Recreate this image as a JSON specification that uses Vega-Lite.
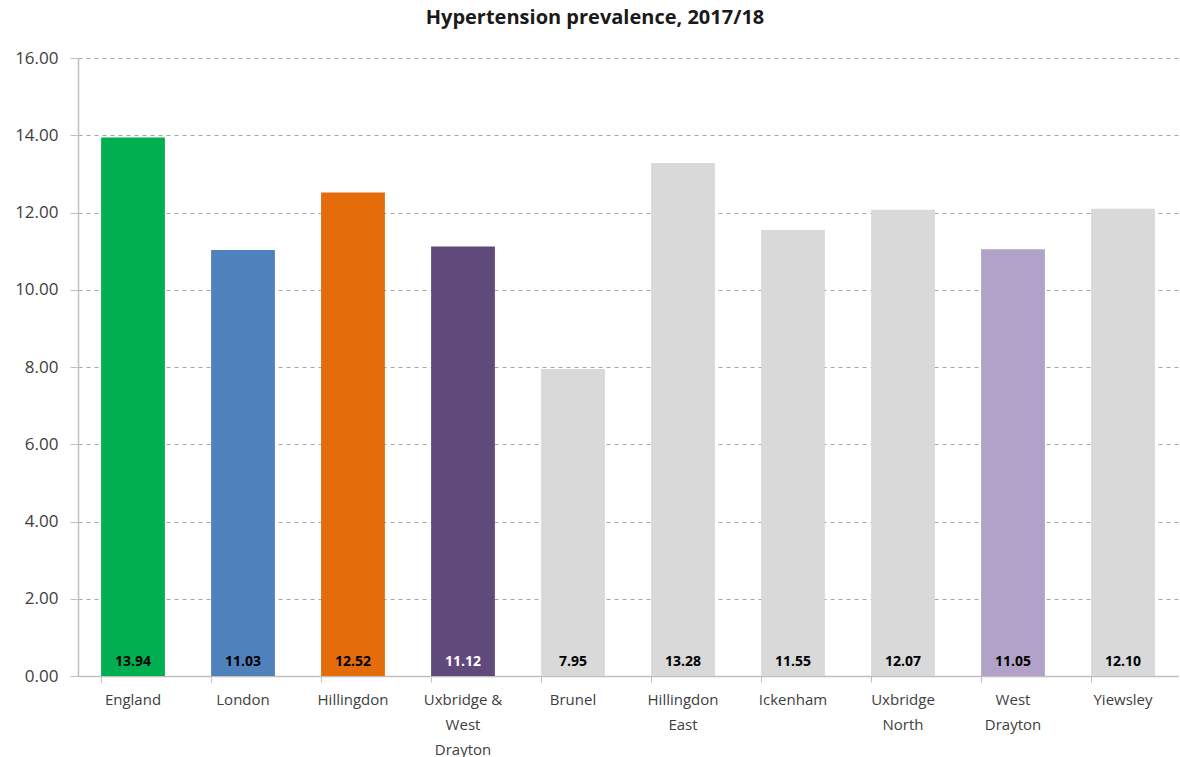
{
  "$schema": "https://vega.github.io/schema/vega-lite/v6.json",
  "autosize": {"type": "none"},
  "width": 1100,
  "height": 618,
  "padding": {"left": 78, "top": 58, "right": 2, "bottom": 81},
  "background": "white",
  "title": {
    "text": "Hypertension prevalence, 2017/18",
    "font": "Open Sans",
    "fontSize": 20,
    "fontWeight": "bold",
    "color": "#1a1a1a",
    "anchor": "middle",
    "dx": -33,
    "offset": 21
  },
  "config": {"view": {"stroke": null}},
  "data": {
    "values": [
      {"area": "England", "value": 13.94, "colour": "#00B050", "txt": "black"},
      {"area": "London", "value": 11.03, "colour": "#4F81BD", "txt": "black"},
      {"area": "Hillingdon", "value": 12.52, "colour": "#E46C0A", "txt": "black"},
      {"area": "Uxbridge &|West|Drayton", "value": 11.12, "colour": "#604A7B", "txt": "white"},
      {"area": "Brunel", "value": 7.95, "colour": "#D9D9D9", "txt": "black"},
      {"area": "Hillingdon|East", "value": 13.28, "colour": "#D9D9D9", "txt": "black"},
      {"area": "Ickenham", "value": 11.55, "colour": "#D9D9D9", "txt": "black"},
      {"area": "Uxbridge|North", "value": 12.07, "colour": "#D9D9D9", "txt": "black"},
      {"area": "West|Drayton", "value": 11.05, "colour": "#B3A2C7", "txt": "black"},
      {"area": "Yiewsley", "value": 12.10, "colour": "#D9D9D9", "txt": "black"}
    ]
  },
  "encoding": {
    "x": {
      "field": "area",
      "type": "nominal",
      "sort": null,
      "scale": {"paddingInner": 0.42, "paddingOuter": 0.21},
      "axis": {
        "title": null,
        "labelAngle": 0,
        "labelExpr": "split(datum.label, '|')",
        "labelFont": "Open Sans",
        "labelFontSize": 15,
        "labelColor": "#404040",
        "labelPadding": 10,
        "labelLineHeight": 25,
        "labelBaseline": "top",
        "bandPosition": 0,
        "tickColor": "#bfbfbf",
        "tickSize": 6,
        "domainColor": "#bfbfbf",
        "domainWidth": 1.5,
        "grid": false
      }
    },
    "y": {
      "field": "value",
      "type": "quantitative",
      "scale": {"domain": [0, 16], "nice": false},
      "axis": {
        "title": null,
        "values": [0, 2, 4, 6, 8, 10, 12, 14, 16],
        "format": ".2f",
        "labelFont": "Open Sans",
        "labelFontSize": 17,
        "labelColor": "#404040",
        "labelPadding": 12,
        "tickColor": "#bfbfbf",
        "tickSize": 8,
        "domainColor": "#bfbfbf",
        "domainWidth": 1.5,
        "grid": true,
        "gridColor": "#a6a6a6",
        "gridDash": [4, 4],
        "gridWidth": 1
      }
    }
  },
  "layer": [
    {
      "mark": {"type": "bar"},
      "encoding": {
        "color": {"field": "colour", "type": "nominal", "scale": null, "legend": null}
      }
    },
    {
      "mark": {"type": "text", "font": "Open Sans", "fontSize": 14, "fontWeight": "bold", "baseline": "bottom", "dy": -7},
      "encoding": {
        "y": {"datum": 0},
        "text": {"field": "value", "type": "quantitative", "format": ".2f"},
        "color": {"field": "txt", "type": "nominal", "scale": null, "legend": null}
      }
    }
  ]
}
